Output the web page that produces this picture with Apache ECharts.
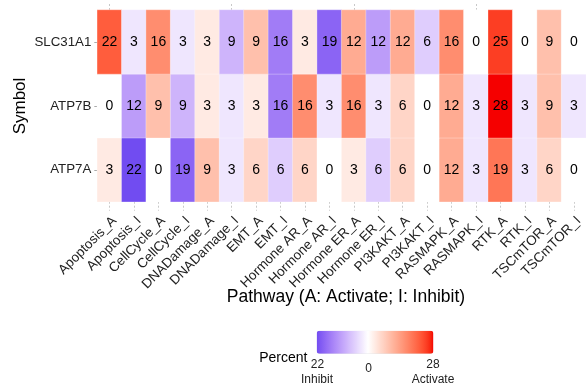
<!DOCTYPE html>
<html>
<head>
<meta charset="utf-8">
<script src="https://cdn.jsdelivr.net/npm/echarts@6/dist/echarts.min.js"></script>
<style>html,body{margin:0;padding:0;background:#fff;}#c{width:586px;height:389px;}</style>
</head>
<body>
<div id="c"></div>
<script>
// ---- data ----
const categories = ['Apoptosis_A','Apoptosis_I','CellCycle_A','CellCycle_I','DNADamage_A','DNADamage_I','EMT_A','EMT_I','Hormone AR_A','Hormone AR_I','Hormone ER_A','Hormone ER_I','PI3KAKT_A','PI3KAKT_I','RASMAPK_A','RASMAPK_I','RTK_A','RTK_I','TSCmTOR_A','TSCmTOR_I'];
const symbols = ['ATP7A','ATP7B','SLC31A1']; // bottom to top
const slc31a1 = [22,3,16,3,3,9,9,16,3,19,12,12,12,6,16,0,25,0,9,0];
const atp7b   = [0,12,9,9,3,3,3,16,16,3,16,3,6,0,12,3,28,3,9,3];
const atp7a   = [3,22,0,19,9,3,6,6,6,0,3,6,6,0,12,3,19,3,6,0];
const legendMin = -22, legendMax = 28;
const legendTicks = ['22', '0', '28'];
const legendSub = ['Inhibit', 'Activate'];

// ---- colour helpers (ggplot gradient2 in CIELAB: blue - white - red) ----
function srgb2lin(c){c/=255;return c<=0.04045?c/12.92:Math.pow((c+0.055)/1.055,2.4);}
function lin2srgb(c){c=c<=0.0031308?12.92*c:1.055*Math.pow(c,1/2.4)-0.055;return Math.max(0,Math.min(255,Math.round(c*255)));}
const WX=0.95047,WY=1,WZ=1.08883;
function f(t){return t>216/24389?Math.cbrt(t):(24389/27*t+16)/116;}
function finv(t){return t*t*t>216/24389?t*t*t:(116*t-16)/(24389/27);}
function rgb2lab(r,g,b){r=srgb2lin(r);g=srgb2lin(g);b=srgb2lin(b);
  const X=0.4124564*r+0.3575761*g+0.1804375*b,Y=0.2126729*r+0.7151522*g+0.0721750*b,Z=0.0193339*r+0.1191920*g+0.9503041*b;
  const fx=f(X/WX),fy=f(Y/WY),fz=f(Z/WZ);return [116*fy-16,500*(fx-fy),200*(fy-fz)];}
function lab2rgb(L,a,b){const fy=(L+16)/116,fx=fy+a/500,fz=fy-b/200;
  const X=finv(fx)*WX,Y=finv(fy)*WY,Z=finv(fz)*WZ;
  const r=3.2404542*X-1.5371385*Y-0.4985314*Z,g=-0.9692660*X+1.8760108*Y+0.0415560*Z,bb=0.0556434*X-0.2040259*Y+1.0572252*Z;
  return 'rgb('+lin2srgb(r)+','+lin2srgb(g)+','+lin2srgb(bb)+')';}
const LOW=rgb2lab(20,20,235),MID=rgb2lab(255,255,255),HIGH=rgb2lab(245,0,0);
const maxAbs=Math.max(Math.abs(legendMin),Math.abs(legendMax));
function colorFor(v){const t=Math.abs(v)/maxAbs,e=v<0?LOW:HIGH;
  return lab2rgb(MID[0]+(e[0]-MID[0])*t,MID[1]+(e[1]-MID[1])*t,MID[2]+(e[2]-MID[2])*t);}
const stops=[];for(let v=legendMin;v<=legendMax;v+=1)stops.push(colorFor(v));

// ---- build heatmap data ----
const rows=[atp7a,atp7b,slc31a1];
const data=[];
rows.forEach((r,yi)=>r.forEach((p,xi)=>{
  const sign=categories[xi].endsWith('_I')?-1:1;
  data.push([xi,yi,sign*p,p]);
}));

const FONT='"Liberation Sans", Arial, Helvetica, sans-serif';
const gridL=97.3, gridT=10, colW=24.87, gridH=191.7;
const chart=echarts.init(document.getElementById('c'),null,{renderer:'canvas'});
chart.setOption({
  animation:false,
  backgroundColor:'#fff',
  textStyle:{fontFamily:FONT},
  grid:{left:gridL,top:gridT,width:colW*categories.length,height:gridH,containLabel:false},
  xAxis:[{
    type:'category',data:categories,position:'bottom',
    axisLine:{show:false},
    axisTick:{show:true,alignWithLabel:true,length:9,lineStyle:{color:'#c8c8c8',type:[2,2],width:1}},
    axisLabel:{rotate:45,margin:12,verticalAlign:'top',fontSize:13.5,color:'#222',fontFamily:FONT,interval:0},
    splitLine:{show:false}
  },{
    type:'category',data:categories,position:'top',
    axisLine:{show:false},
    axisTick:{show:true,alignWithLabel:true,length:7,lineStyle:{color:'#c8c8c8',type:[2,2],width:1}},
    axisLabel:{show:false},splitLine:{show:false}
  }],
  yAxis:{
    type:'category',data:symbols,
    axisLine:{show:false},
    axisTick:{show:true,alignWithLabel:true,length:3,lineStyle:{color:'#aaa'}},
    axisLabel:{margin:6,fontSize:13.3,color:'#222',fontFamily:FONT}
  },
  visualMap:{
    type:'continuous',min:legendMin,max:legendMax,dimension:2,
    orient:'horizontal',left:316.7,top:330.7,itemWidth:23,itemHeight:116.7,
    calculable:false,text:null,showLabel:false,padding:0,hoverLink:false,
    inRange:{color:stops},seriesIndex:0
  },
  series:[{
    type:'heatmap',data:data,xAxisIndex:0,yAxisIndex:0,
    label:{show:true,formatter:p=>String(p.value[3]),fontSize:14,color:'#000',fontFamily:FONT},
    itemStyle:{borderColor:'rgba(255,255,255,0.6)',borderWidth:0.5},
    emphasis:{disabled:true}
  }],
  graphic:[
    {type:'text',x:20,y:106,rotation:Math.PI/2,style:{text:'Symbol',font:'17px '+FONT,fill:'#000',textAlign:'center',textVerticalAlign:'middle'}},
    {type:'text',x:346,y:297,style:{text:'Pathway (A: Activate; I: Inhibit)',font:'17.5px '+FONT,fill:'#000',textAlign:'center',textVerticalAlign:'middle'}},
    {type:'text',x:283.3,y:358.5,style:{text:'Percent',font:'14px '+FONT,fill:'#000',textAlign:'center',textVerticalAlign:'middle'}},
    {type:'text',x:317.5,y:365,style:{text:legendTicks[0],font:'12px '+FONT,fill:'#222',textAlign:'center',textVerticalAlign:'middle'}},
    {type:'text',x:368.5,y:368.5,style:{text:legendTicks[1],font:'12px '+FONT,fill:'#222',textAlign:'center',textVerticalAlign:'middle'}},
    {type:'text',x:433,y:365,style:{text:legendTicks[2],font:'12px '+FONT,fill:'#222',textAlign:'center',textVerticalAlign:'middle'}},
    {type:'text',x:317,y:380,style:{text:legendSub[0],font:'12px '+FONT,fill:'#222',textAlign:'center',textVerticalAlign:'middle'}},
    {type:'text',x:433,y:380,style:{text:legendSub[1],font:'12px '+FONT,fill:'#222',textAlign:'center',textVerticalAlign:'middle'}}
  ]
});
</script>
</body>
</html>
